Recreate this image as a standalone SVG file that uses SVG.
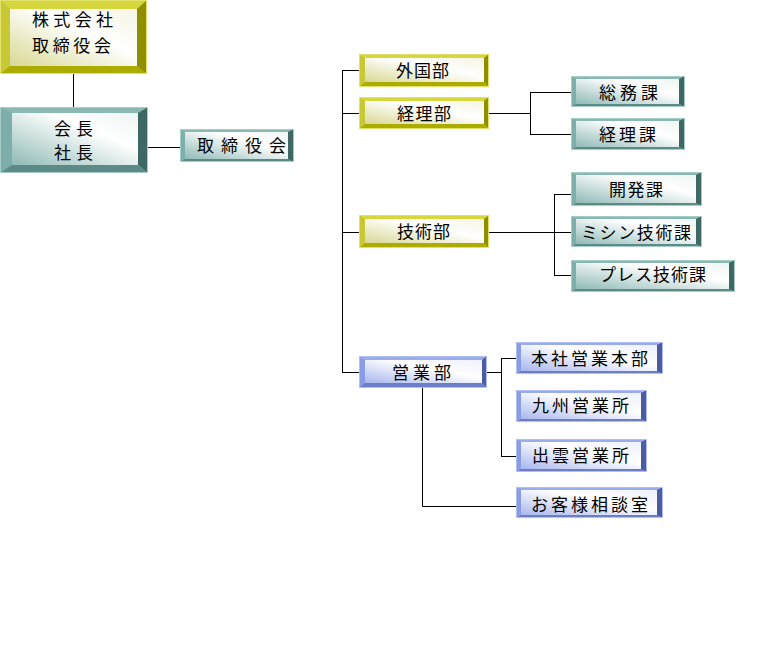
<svg xmlns="http://www.w3.org/2000/svg" width="768" height="659" viewBox="0 0 768 659">
<defs>
<linearGradient id="gy" x1="0" y1="1" x2="1" y2="0"><stop offset="0" stop-color="#d8d894"/><stop offset="0.6" stop-color="#ffffff"/><stop offset="1" stop-color="#f4f4e4"/></linearGradient>
<linearGradient id="gt" x1="0" y1="1" x2="1" y2="0"><stop offset="0" stop-color="#8fbab6"/><stop offset="0.65" stop-color="#ffffff"/><stop offset="1" stop-color="#eef5f4"/></linearGradient>
<linearGradient id="gb" x1="0" y1="1" x2="1" y2="0"><stop offset="0" stop-color="#a8b6ee"/><stop offset="0.6" stop-color="#ffffff"/><stop offset="1" stop-color="#eef0fc"/></linearGradient>
</defs>
<style>
.y .t{fill:#d6d63e}.y .l{fill:#c8c834}.y .r{fill:#8e8e00}.y .b{fill:#abab00}.y .f{fill:url(#gy)}.y .o{fill:none;stroke:#e2e26a;stroke-width:1}
.c .t{fill:#8cb8b4}.c .l{fill:#7eaeaa}.c .r{fill:#3d6864}.c .b{fill:#5c8a86}.c .f{fill:url(#gt)}.c .o{fill:none;stroke:#a6ccc8;stroke-width:1}
.u .t{fill:#9aacee}.u .l{fill:#8a9ce2}.u .r{fill:#4c5ca2}.u .b{fill:#6c7ec8}.u .f{fill:url(#gb)}.u .o{fill:none;stroke:#afbff2;stroke-width:1}
text{font-family:"Noto Sans CJK JP","Noto Sans CJK SC",sans-serif;font-size:17px;fill:#000}
.cn path{fill:none;stroke:#000;stroke-width:1}
</style>

<g class="cn" id="connectors">
<path d="M73.5 74V107"/>
<path d="M148 147.5H180"/>
<path d="M342.5 70.5V372.5"/>
<path d="M342 70.5H359M342 113.5H359M342 232.5H359M342 372.5H359"/>
<path d="M489 113.5H530.5M530.5 92.5V134.5M530 92.5H571M530 134.5H571"/>
<path d="M489 232.5H571M554.5 194.5V275.5M554 194.5H571M554 275.5H571"/>
<path d="M487 372.5H501.5M501.5 358.5V456.5M501 358.5H516M501 456.5H516"/>
<path d="M422.5 388V506.5H516"/>
</g>

<g id="n-board-top" class="y">
<rect class="t" x="0" y="0" width="147" height="74"/>
<polygon class="l" points="0,0 10,9 10,66 0,74"/>
<polygon class="r" points="147,0 147,74 137,66 137,9"/>
<polygon class="b" points="0,74 10,66 137,66 147,74"/>
<rect class="f" x="10" y="9" width="127" height="57"/>
<rect class="o" x="0.5" y="0.5" width="146" height="73"/>
<text x="32" y="26" textLength="81" lengthAdjust="spacing">株式会社</text>
<text x="32" y="52" textLength="79" lengthAdjust="spacing">取締役会</text>
</g>

<g id="n-president" class="c">
<rect class="t" x="0" y="107" width="148" height="66"/>
<polygon class="l" points="0,107 12,113 12,165 0,173"/>
<polygon class="r" points="148,107 148,173 138,165 138,113"/>
<polygon class="b" points="0,173 12,165 138,165 148,173"/>
<rect class="f" x="12" y="113" width="126" height="52"/>
<rect class="o" x="0.5" y="107.5" width="147" height="65"/>
<text x="54" y="135" textLength="39" lengthAdjust="spacing">会長</text>
<text x="54" y="159" textLength="39" lengthAdjust="spacing">社長</text>
</g>

<g id="n-board" class="c">
<rect class="t" x="180" y="129" width="114" height="33"/>
<polygon class="l" points="180,129 185,132 185,159 180,162"/>
<polygon class="r" points="294,129 294,162 288,159 288,132"/>
<polygon class="b" points="180,162 185,159 288,159 294,162"/>
<rect class="f" x="185" y="132" width="103" height="27"/>
<rect class="o" x="180.5" y="129.5" width="113" height="32"/>
<text x="197" y="152" textLength="89" lengthAdjust="spacing">取締役会</text>
</g>

<g id="n-gaikoku" class="y">
<rect class="t" x="359" y="54" width="130" height="33"/>
<polygon class="l" points="359,54 365,58 365,82 359,87"/>
<polygon class="r" points="489,54 489,87 484,82 484,58"/>
<polygon class="b" points="359,87 365,82 484,82 489,87"/>
<rect class="f" x="365" y="58" width="119" height="24"/>
<rect class="o" x="359.5" y="54.5" width="129" height="32"/>
<text x="396" y="77" textLength="53" lengthAdjust="spacing">外国部</text>
</g>

<g id="n-keiri" class="y">
<rect class="t" x="359" y="97" width="130" height="32"/>
<polygon class="l" points="359,97 365,101 365,124 359,129"/>
<polygon class="r" points="489,97 489,129 484,124 484,101"/>
<polygon class="b" points="359,129 365,124 484,124 489,129"/>
<rect class="f" x="365" y="101" width="119" height="23"/>
<rect class="o" x="359.5" y="97.5" width="129" height="31"/>
<text x="397" y="120" textLength="54" lengthAdjust="spacing">経理部</text>
</g>

<g id="n-gijutsu" class="y">
<rect class="t" x="359" y="215" width="130" height="33"/>
<polygon class="l" points="359,215 365,219 365,243 359,248"/>
<polygon class="r" points="489,215 489,248 484,243 484,219"/>
<polygon class="b" points="359,248 365,243 484,243 489,248"/>
<rect class="f" x="365" y="219" width="119" height="24"/>
<rect class="o" x="359.5" y="215.5" width="129" height="32"/>
<text x="397" y="238" textLength="53" lengthAdjust="spacing">技術部</text>
</g>

<g id="n-eigyo" class="u">
<rect class="t" x="359" y="356" width="128" height="32"/>
<polygon class="l" points="359,356 365,360 365,383 359,388"/>
<polygon class="r" points="487,356 487,388 482,383 482,360"/>
<polygon class="b" points="359,388 365,383 482,383 487,388"/>
<rect class="f" x="365" y="360" width="117" height="23"/>
<rect class="o" x="359.5" y="356.5" width="127" height="31"/>
<text x="392" y="379" textLength="59" lengthAdjust="spacing">営業部</text>
</g>

<g id="n-somu" class="c">
<rect class="t" x="571" y="76" width="114" height="31"/>
<polygon class="l" points="571,76 576,79 576,104 571,107"/>
<polygon class="r" points="685,76 685,107 679,104 679,79"/>
<polygon class="b" points="571,107 576,104 679,104 685,107"/>
<rect class="f" x="576" y="79" width="103" height="25"/>
<rect class="o" x="571.5" y="76.5" width="113" height="30"/>
<text x="599" y="99" textLength="59" lengthAdjust="spacing">総務課</text>
</g>

<g id="n-keiri-ka" class="c">
<rect class="t" x="571" y="118" width="114" height="32"/>
<polygon class="l" points="571,118 576,121 576,147 571,150"/>
<polygon class="r" points="685,118 685,150 679,147 679,121"/>
<polygon class="b" points="571,150 576,147 679,147 685,150"/>
<rect class="f" x="576" y="121" width="103" height="26"/>
<rect class="o" x="571.5" y="118.5" width="113" height="31"/>
<text x="599" y="141" textLength="57" lengthAdjust="spacing">経理課</text>
</g>

<g id="n-kaihatsu" class="c">
<rect class="t" x="571" y="172" width="131" height="34"/>
<polygon class="l" points="571,172 576,175 576,203 571,206"/>
<polygon class="r" points="702,172 702,206 696,203 696,175"/>
<polygon class="b" points="571,206 576,203 696,203 702,206"/>
<rect class="f" x="576" y="175" width="120" height="28"/>
<rect class="o" x="571.5" y="172.5" width="130" height="33"/>
<text x="609" y="196" textLength="54" lengthAdjust="spacing">開発課</text>
</g>

<g id="n-mishin" class="c">
<rect class="t" x="571" y="216" width="131" height="31"/>
<polygon class="l" points="571,216 576,219 576,244 571,247"/>
<polygon class="r" points="702,216 702,247 696,244 696,219"/>
<polygon class="b" points="571,247 576,244 696,244 702,247"/>
<rect class="f" x="576" y="219" width="120" height="25"/>
<rect class="o" x="571.5" y="216.5" width="130" height="30"/>
<text x="581" y="239" textLength="110" lengthAdjust="spacing">ミシン技術課</text>
</g>

<g id="n-press" class="c">
<rect class="t" x="571" y="260" width="164" height="32"/>
<polygon class="l" points="571,260 576,263 576,289 571,292"/>
<polygon class="r" points="735,260 735,292 729,289 729,263"/>
<polygon class="b" points="571,292 576,289 729,289 735,292"/>
<rect class="f" x="576" y="263" width="153" height="26"/>
<rect class="o" x="571.5" y="260.5" width="163" height="31"/>
<text x="599" y="281" textLength="107" lengthAdjust="spacing">プレス技術課</text>
</g>

<g id="n-honsha" class="u">
<rect class="t" x="516" y="342" width="147" height="32"/>
<polygon class="l" points="516,342 521,345 521,371 516,374"/>
<polygon class="r" points="663,342 663,374 657,371 657,345"/>
<polygon class="b" points="516,374 521,371 657,371 663,374"/>
<rect class="f" x="521" y="345" width="136" height="26"/>
<rect class="o" x="516.5" y="342.5" width="146" height="31"/>
<text x="531" y="365" textLength="117" lengthAdjust="spacing">本社営業本部</text>
</g>

<g id="n-kyushu" class="u">
<rect class="t" x="516" y="390" width="131" height="32"/>
<polygon class="l" points="516,390 521,393 521,419 516,422"/>
<polygon class="r" points="647,390 647,422 641,419 641,393"/>
<polygon class="b" points="516,422 521,419 641,419 647,422"/>
<rect class="f" x="521" y="393" width="120" height="26"/>
<rect class="o" x="516.5" y="390.5" width="130" height="31"/>
<text x="532" y="412" textLength="97" lengthAdjust="spacing">九州営業所</text>
</g>

<g id="n-izumo" class="u">
<rect class="t" x="516" y="439" width="131" height="33"/>
<polygon class="l" points="516,439 521,442 521,469 516,472"/>
<polygon class="r" points="647,439 647,472 641,469 641,442"/>
<polygon class="b" points="516,472 521,469 641,469 647,472"/>
<rect class="f" x="521" y="442" width="120" height="27"/>
<rect class="o" x="516.5" y="439.5" width="130" height="32"/>
<text x="532" y="462" textLength="97" lengthAdjust="spacing">出雲営業所</text>
</g>

<g id="n-sodan" class="u">
<rect class="t" x="516" y="487" width="147" height="31"/>
<polygon class="l" points="516,487 521,490 521,515 516,518"/>
<polygon class="r" points="663,487 663,518 657,515 657,490"/>
<polygon class="b" points="516,518 521,515 657,515 663,518"/>
<rect class="f" x="521" y="490" width="136" height="25"/>
<rect class="o" x="516.5" y="487.5" width="146" height="30"/>
<text x="531" y="511" textLength="117" lengthAdjust="spacing">お客様相談室</text>
</g>
</svg>
